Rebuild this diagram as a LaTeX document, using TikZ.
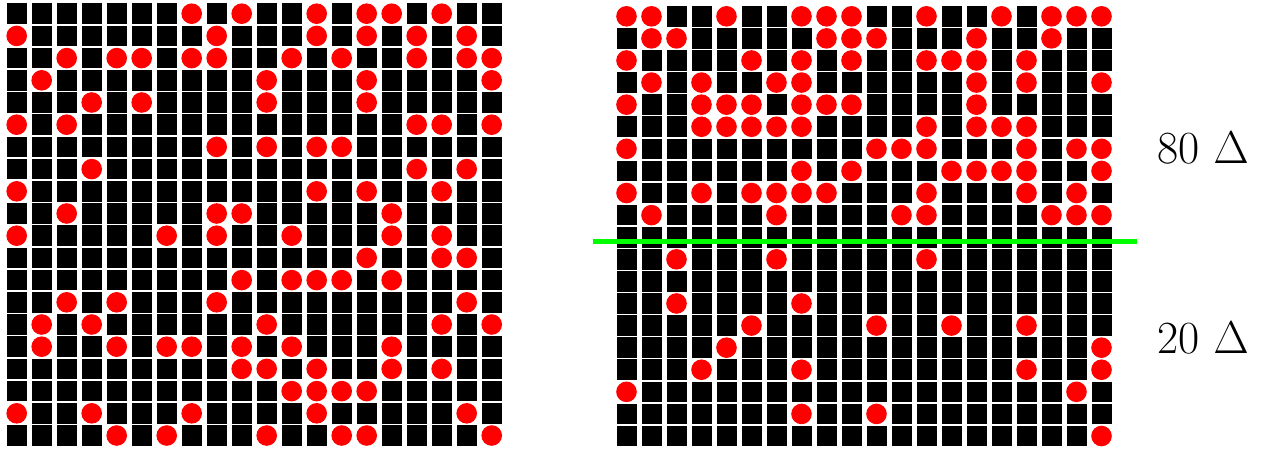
\RequirePackage{fix-cm}
\documentclass[tikz,border=0pt]{standalone}
\definecolor{cutgreen}{RGB}{0,255,0}
\begin{document}
\begin{tikzpicture}[x=1pt, y=-1pt,
    cellbox/.style={fill=black},
    celldot/.style={fill=red},
    cutline/.style={draw=cutgreen, line width=5pt},
    countlabel/.style={anchor=base west, inner sep=0pt, font=\fontsize{46}{55}\selectfont}]

    \useasboundingbox (0,0) rectangle (1268,448);

    % --- Left grid (row / columns holding a dot) ---
    \foreach \row/\hits in {0/{7,9,12,14,15,17}, 1/{0,8,12,14,16,18},
        2/{2,4,5,7,8,11,13,16,18,19}, 3/{1,10,14,19}, 4/{3,5,10,14},
        5/{0,2,16,17,19}, 6/{8,10,12,13}, 7/{3,16,18}, 8/{0,12,14,17},
        9/{2,8,9,15}, 10/{0,6,8,11,15,17}, 11/{14,17,18}, 12/{9,11,12,13,15},
        13/{2,4,8,18}, 14/{1,3,10,17,19}, 15/{1,4,6,7,9,11,15},
        16/{9,10,12,15,17}, 17/{11,12,13,14}, 18/{0,3,7,12,18},
        19/{4,6,10,13,14,19}} {
      \foreach \col in {0,...,19} {
        \gdef\isdot{0}
        \foreach \k in \hits {\ifnum\k=\col \gdef\isdot{1}\fi}
        \ifnum\isdot=1
          \fill[celldot] ({16.7+25*\col},{13.7+22.2*\row}) circle (10.3pt);
        \else
          \fill[cellbox] ({6.7+25*\col},{3.4+22.2*\row}) rectangle ++(20,20.6);
        \fi
      }
    }

    % --- Right grid ---
    \foreach \row/\hits in {0/{0,1,4,7,8,9,12,15,17,18,19}, 1/{1,2,8,9,10,14,17},
        2/{0,5,7,9,12,13,14,16}, 3/{1,3,6,7,14,16,19}, 4/{0,3,4,5,7,8,9,14},
        5/{3,4,5,6,7,12,14,15,16}, 6/{0,10,11,12,16,18,19},
        7/{7,9,13,14,15,16,19}, 8/{0,3,5,6,7,8,12,16,18},
        9/{1,6,11,12,17,18,19}, 10/{-1}, 11/{2,6,12}, 12/{-1}, 13/{2,7},
        14/{5,10,13,16}, 15/{4,19}, 16/{3,7,16,19}, 17/{0,18}, 18/{7,10},
        19/{19}} {
      \foreach \col in {0,...,19} {
        \gdef\isdot{0}
        \foreach \k in \hits {\ifnum\k=\col \gdef\isdot{1}\fi}
        \ifnum\isdot=1
          \fill[celldot] ({626.5+25*\col},{16.3+22.09*\row}) circle (10.3pt);
        \else
          \fill[cellbox] ({616.5+25*\col},{6+22.09*\row}) rectangle ++(20,20.6);
        \fi
      }
    }

    % --- Cut line and labels ---
    \coordinate (cutL) at (593,241.5);
    \coordinate (cutR) at (1137,241.5);
    \draw[cutline] (cutL) -- (cutR);

    \node[countlabel] (upper) at (1157,163.5) {80 $\Delta$};
    \node[countlabel] (lower) at (1157,353) {20 $\Delta$};

\end{tikzpicture}
\end{document}
